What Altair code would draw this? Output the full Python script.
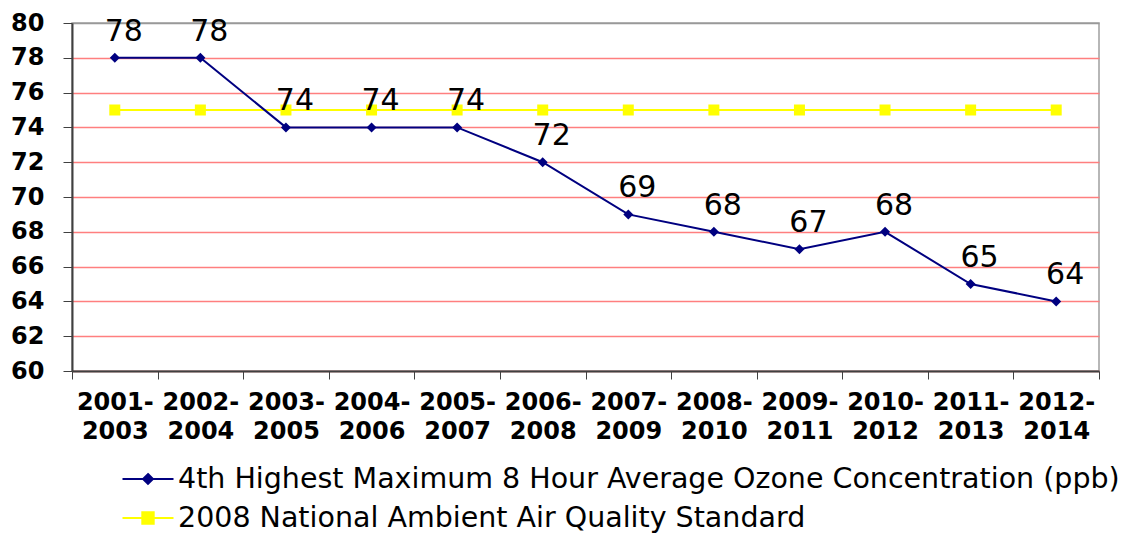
import altair as alt
import pandas as pd

periods = ["2001-2003", "2002-2004", "2003-2005", "2004-2006", "2005-2007", "2006-2008",
           "2007-2009", "2008-2010", "2009-2011", "2010-2012", "2011-2013", "2012-2014"]
ozone = [78, 78, 74, 74, 74, 72, 69, 68, 67, 68, 65, 64]
standard = [75, 75, 75, 75, 75, 75, 75, 75, 75, 75, 75, 75]
s1 = "4th Highest Maximum 8 Hour Average Ozone Concentration (ppb)"
s2 = "2008 National Ambient Air Quality Standard"
y_ticks = [60, 62, 64, 66, 68, 70, 72, 74, 76, 78, 80]

NAVY = "#000080"
YELLOW = "#FFFF00"

df = pd.DataFrame({
    "period": periods * 2,
    "value": ozone + standard,
    "series": [s1] * len(periods) + [s2] * len(periods),
})

xenc = alt.X("period:N", sort=periods,
             scale=alt.Scale(type="band", paddingInner=0, paddingOuter=0),
             axis=alt.Axis(title=None, labelAngle=0, tickBand="extent",
                           labelExpr="[slice(datum.label,0,5), slice(datum.label,5)]",
                           labelLineHeight=29, labelFont="DejaVu Sans", labelFontSize=24,
                           labelFontWeight="bold", labelColor="black", labelPadding=11,
                           tickSize=8, tickColor="#404040", domainColor="#404040",
                           domainWidth=2, grid=False))
yenc = alt.Y("value:Q", scale=alt.Scale(domain=[60, 80], nice=False, zero=False),
             axis=alt.Axis(title=None, values=y_ticks, labelFont="DejaVu Sans",
                           labelFontSize=24, labelFontWeight="bold", labelColor="black",
                           labelPadding=19, tickSize=9, tickColor="#404040",
                           domainColor="#404040", domainWidth=2, grid=True,
                           gridColor=alt.condition("datum.value == 80",
                                                   alt.value("#999999"), alt.value("#FF7F7F")),
                           gridWidth=1.3))

base = alt.Chart(df).encode(x=xenc, y=yenc)

line1 = base.transform_filter(alt.datum.series == s1).mark_line(color=NAVY, strokeWidth=2)
line2 = base.transform_filter(alt.datum.series == s2).mark_line(color=YELLOW, strokeWidth=2)
pts1 = base.transform_filter(alt.datum.series == s1).mark_point(
    shape="diamond", size=100, filled=True, color=NAVY, opacity=1)
pts2 = base.transform_filter(alt.datum.series == s2).mark_point(
    shape="square", size=121, filled=True, color=YELLOW, opacity=1)
labels = base.transform_filter(alt.datum.series == s1).mark_text(
    font="DejaVu Sans", fontSize=30, dx=9, dy=-11, baseline="bottom", color="black"
).encode(text="value:Q")

path1 = "M-1.7,0L1.7,0M0,-0.33L0.33,0L0,0.33L-0.33,0Z"
path2 = "M-1.7,0L1.7,0M-0.38,-0.38L0.38,-0.38L0.38,0.38L-0.38,0.38Z"
leg = alt.Legend(title=None, orient="none", legendX=60, legendY=440, direction="vertical",
                 labelFont="DejaVu Sans", labelFontSize=28.5, labelColor="black",
                 labelLimit=1500, symbolSize=900, symbolStrokeWidth=2,
                 labelOffset=14, rowPadding=8)
legend_layer = alt.Chart(df).mark_point(filled=True, clip=True, strokeWidth=2, opacity=1).encode(
    x=alt.X("period:N", sort=periods),
    y=alt.value(-2000),
    color=alt.Color("series:N", scale=alt.Scale(domain=[s1, s2], range=[NAVY, YELLOW]), legend=leg),
    stroke=alt.Stroke("series:N", scale=alt.Scale(domain=[s1, s2], range=[NAVY, YELLOW]), legend=leg),
    shape=alt.Shape("series:N", scale=alt.Scale(domain=[s1, s2], range=[path1, path2]), legend=leg),
)

chart = alt.layer(line2, pts2, line1, pts1, labels, legend_layer).properties(
    width=1027, height=348,
    autosize=alt.AutoSizeParams(type="none"),
    padding={"left": 64, "top": 15, "right": 33, "bottom": 164},
).configure_view(stroke="#A0A0A0", strokeWidth=1.5)

chart.save("out.html", embed_options={"renderer": "svg", "actions": False})
